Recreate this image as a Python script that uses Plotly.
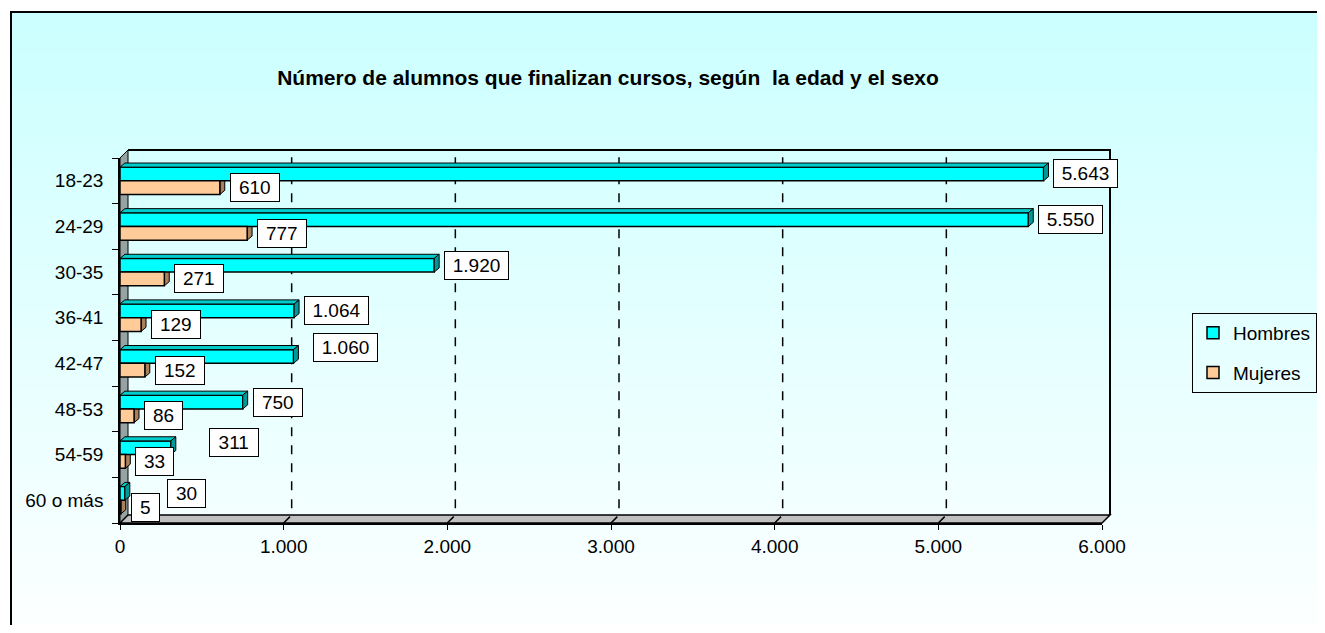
import plotly.graph_objects as go

# datos
edades = ["18-23", "24-29", "30-35", "36-41", "42-47", "48-53", "54-59", "60 o más"]
hombres = [5643, 5550, 1920, 1064, 1060, 750, 311, 30]
mujeres = [610, 777, 271, 129, 152, 86, 33, 5]
x_ticks = [0, 1000, 2000, 3000, 4000, 5000, 6000]

# desplazamiento (px) de algunas etiquetas de Hombres, como en el original
etiq_dx = [0, 0, 0, 0, 10, 0, 28, 32]
etiq_dy = [0, 0, 0, 0, 9, 0, 5, 0]

FONT = "Arial, Liberation Sans, sans-serif"
XMAX = 6000
OFF = 8  # margen del <body> de la pagina
W, H = 1325 - 2 * OFF, 633 - 2 * OFF
L, T = 120 - OFF, 158 - OFF
PW, PH = 982, 365
R, B = W - L - PW, H - T - PH
X_END, Y_END = OFF + W, OFF + H  # borde de la figura en pantalla


def fmt(v):
    return f"{v:,}".replace(",", ".")


def px_x(sx):
    # pixel de pantalla -> coordenada paper
    return (sx - OFF - L) / PW


def px_y(sy):
    return (T + PH - (sy - OFF)) / PH


pos = list(range(len(edades)))

fig = go.Figure()
fig.add_trace(go.Bar(
    y=pos, x=hombres, orientation="h", name="Hombres", legendgroup="h",
    marker=dict(color="#00FFFF", line=dict(color="black", width=1.5)),
))
fig.add_trace(go.Bar(
    y=pos, x=mujeres, orientation="h", name="Mujeres", legendgroup="m",
    marker=dict(color="#FFCC99", line=dict(color="black", width=1.5)),
))

shapes = []

# fondo degradado (cian claro arriba, casi blanco abajo)
top_px, n = 12, 60
for i in range(n):
    y0 = top_px + (Y_END - top_px) * i / n
    y1 = min(top_px + (Y_END - top_px) * (i + 1) / n + 1, Y_END)
    t = i / (n - 1)
    g = int(0xCC + (0xFC - 0xCC) * t)
    shapes.append(dict(type="rect", xref="paper", yref="paper", layer="below",
                       x0=px_x(12), x1=px_x(X_END), y0=px_y(y1), y1=px_y(y0),
                       fillcolor=f"rgb({g},255,255)", line=dict(width=0)))

# marco exterior (solo se ven los bordes izquierdo y superior)
shapes.append(dict(type="path", xref="paper", yref="paper", layer="below",
                   path=f"M {px_x(11)},{px_y(Y_END)} L {px_x(11)},{px_y(12)} L {px_x(X_END)},{px_y(12)}",
                   line=dict(color="black", width=2)))

# profundidad 3D de las paredes
DX, DY = 8 / PW, 8 / PH

# pared izquierda
shapes.append(dict(type="path", xref="paper", yref="paper", layer="below",
                   path=f"M 0,0 L 0,1 L {DX},{1 + DY} L {DX},{DY} Z",
                   fillcolor="#95A3A3", line=dict(color="black", width=1)))
# suelo
shapes.append(dict(type="path", xref="paper", yref="paper", layer="below",
                   path=f"M 0,0 L 1,0 L {1 + DX},{DY} L {DX},{DY} Z",
                   fillcolor="#C0C0C0", line=dict(color="black", width=1.5)))
# lineas de division (pared del fondo)
for v in x_ticks[1:-1]:
    px = v / XMAX
    shapes.append(dict(type="path", xref="paper", yref="paper", layer="below",
                       path=f"M {px},0 L {px + DX},{DY} L {px + DX},{1 + DY}",
                       line=dict(color="black", width=1.5, dash="dash")))
# borde superior y derecho de la pared del fondo
shapes.append(dict(type="path", xref="paper", yref="paper", layer="below",
                   path=f"M {DX},{1 + DY} L {1 + DX},{1 + DY} L {1 + DX},{DY}",
                   line=dict(color="black", width=2)))

# caras laterales y superiores de las barras
bw = 0.3
dx, dy = 30, 0.09
for c, vh, vm in zip(pos, hombres, mujeres):
    top = c - bw
    shapes.append(dict(type="path", xref="x", yref="y",
                       path=f"M 0,{top} L {vh},{top} L {vh + dx},{top - dy} L {dx},{top - dy} Z",
                       fillcolor="#00CCCC", line=dict(color="black", width=1)))
    shapes.append(dict(type="path", xref="x", yref="y",
                       path=f"M {vh},{top} L {vh + dx},{top - dy} L {vh + dx},{c - dy} L {vh},{c} Z",
                       fillcolor="#009999", line=dict(color="black", width=1)))
    shapes.append(dict(type="path", xref="x", yref="y", layer="below",
                       path=f"M {vm},{c} L {vm + dx},{c - dy} L {vm + dx},{c + bw - dy} L {vm},{c + bw} Z",
                       fillcolor="#A8805C", line=dict(color="black", width=1)))

# etiquetas de datos en recuadros
annotations = []
for i, (c, vh, vm) in enumerate(zip(pos, hombres, mujeres)):
    for v, yc, xs, ys in ((vh, c - bw / 2, etiq_dx[i], etiq_dy[i]), (vm, c + bw / 2, 0, 0)):
        s = fmt(v)
        tw = 10.5 * sum(ch.isdigit() for ch in s) + 5 * s.count(".") + 10
        annotations.append(dict(x=v + dx, y=yc, xref="x", yref="y", text=s,
                                showarrow=False, xanchor="left", xshift=5 + xs, yshift=ys,
                                width=tw, bgcolor="white", bordercolor="black",
                                borderwidth=1, borderpad=3,
                                font=dict(family=FONT, size=19, color="black")))

fig.update_layout(
    width=W, height=H,
    margin=dict(l=L, r=R, t=T, b=B),
    paper_bgcolor="white",
    plot_bgcolor="rgba(0,0,0,0)",
    font=dict(family=FONT, size=19, color="black"),
    title=dict(text="<b>Número de alumnos que finalizan cursos, según\u00a0 la edad y el sexo</b>",
               x=(608 - OFF) / W, xanchor="center", y=1 - (78 - OFF) / H, yanchor="middle",
               font=dict(family=FONT, size=21, color="black")),
    barmode="group", bargap=0.4,
    xaxis=dict(range=[0, XMAX], tickvals=x_ticks, ticktext=[fmt(v) for v in x_ticks],
               showgrid=False, zeroline=False, showline=True, linecolor="black",
               linewidth=2, ticks="outside", ticklen=5, tickcolor="black",
               tickfont=dict(size=19)),
    yaxis=dict(range=[len(edades) - 0.5, -0.5], tickvals=pos, ticktext=edades,
               showgrid=False, zeroline=False, showline=True, linecolor="black",
               linewidth=1.5, ticks="", ticklabelstandoff=11,
               tickfont=dict(size=19),
               minor=dict(tickvals=[p - 0.5 for p in pos] + [len(pos) - 0.5],
                          ticks="outside", ticklen=6, tickcolor="black", showgrid=False)),
    legend=dict(xref="container", yref="container",
                x=(1192 - OFF) / W, y=1 - (313 - OFF) / H, xanchor="left", yanchor="top",
                bgcolor="rgba(0,0,0,0)", bordercolor="black", borderwidth=1,
                tracegroupgap=12, font=dict(size=19)),
    shapes=shapes,
    annotations=annotations,
)

fig.write_html("out.html")
